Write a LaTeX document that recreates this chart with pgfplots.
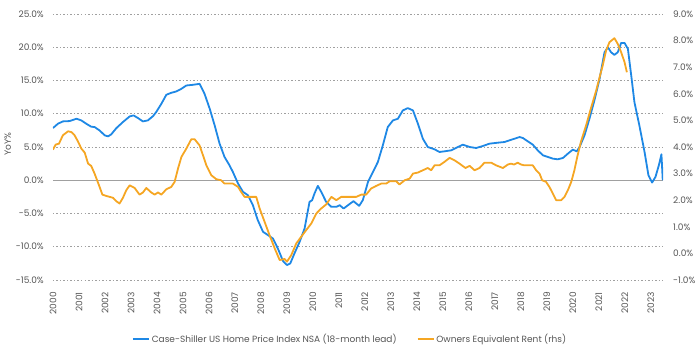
\documentclass[border=0pt]{standalone}
\usepackage{fontspec}
\setmainfont{Poppins}
\usepackage{pgfplots}
\pgfplotsset{compat=1.18}
\definecolor{csblue}{RGB}{30,136,229}
\definecolor{oerorange}{RGB}{245,166,35}
\definecolor{txt}{RGB}{85,85,85}
\definecolor{gridc}{RGB}{160,160,160}

\pgfplotstableread{
year val
2000.00 7.85
2000.19 8.5
2000.38 8.85
2000.64 8.9
2000.90 9.25
2001.09 9.0
2001.28 8.5
2001.47 8.05
2001.60 8.0
2001.79 7.5
2001.99 6.75
2002.12 6.6
2002.24 6.9
2002.44 7.85
2002.69 8.75
2002.95 9.6
2003.10 9.75
2003.27 9.35
2003.46 8.85
2003.65 9.0
2003.85 9.65
2003.97 10.25
2004.17 11.5
2004.36 12.85
2004.55 13.15
2004.74 13.35
2004.94 13.75
2005.13 14.25
2005.38 14.35
2005.64 14.5
2005.83 13.0
2006.03 10.75
2006.22 8.25
2006.41 5.5
2006.60 3.5
2006.79 2.25
2006.92 1.25
2007.12 -0.5
2007.31 -1.75
2007.50 -2.25
2007.69 -3.75
2007.88 -6.0
2008.08 -7.75
2008.27 -8.25
2008.46 -8.75
2008.65 -10.25
2008.85 -12.15
2009.00 -12.75
2009.13 -12.5
2009.29 -11.0
2009.49 -9.25
2009.68 -7.25
2009.87 -3.25
2009.97 -3.0
2010.06 -2.0
2010.19 -0.85
2010.32 -1.75
2010.51 -3.25
2010.71 -4.0
2010.90 -4.0
2011.03 -3.75
2011.18 -4.25
2011.35 -3.75
2011.56 -3.15
2011.78 -3.85
2011.92 -3.0
2012.12 -0.25
2012.31 1.25
2012.50 2.75
2012.69 5.25
2012.88 8.0
2013.08 9.0
2013.27 9.25
2013.46 10.5
2013.65 10.85
2013.85 10.5
2014.04 8.5
2014.23 6.25
2014.42 5.0
2014.68 4.65
2014.87 4.25
2015.06 4.35
2015.32 4.5
2015.58 5.0
2015.77 5.35
2016.03 5.0
2016.28 4.85
2016.54 5.15
2016.79 5.5
2017.12 5.65
2017.37 5.75
2017.56 6.0
2017.76 6.25
2017.95 6.5
2018.08 6.35
2018.27 5.85
2018.46 5.35
2018.65 4.5
2018.85 3.75
2019.04 3.5
2019.23 3.25
2019.42 3.15
2019.62 3.35
2019.81 4.0
2020.00 4.6
2020.15 4.35
2020.26 5.0
2020.45 6.75
2020.64 9.25
2020.83 12.0
2021.03 15.25
2021.22 19.25
2021.35 20.0
2021.47 19.25
2021.60 18.85
2021.73 19.25
2021.86 20.65
2021.99 20.65
2022.12 19.75
2022.24 16.0
2022.37 11.75
2022.56 8.25
2022.76 4.25
2022.91 0.75
2023.05 -0.35
2023.18 0.5
2023.31 2.25
2023.41 3.9
2023.46 0.0
}\csdata

\pgfplotstableread{
year val
2000.00 3.90
2000.10 4.09
2000.23 4.125
2000.38 4.44
2000.58 4.59
2000.71 4.56
2000.83 4.44
2000.96 4.21
2001.09 3.94
2001.22 3.79
2001.35 3.375
2001.47 3.29
2001.60 3.0
2001.77 2.56
2001.90 2.21
2002.05 2.16
2002.18 2.125
2002.31 2.09
2002.44 1.96
2002.56 1.875
2002.69 2.09
2002.82 2.375
2002.95 2.56
2003.14 2.46
2003.33 2.21
2003.46 2.29
2003.59 2.46
2003.78 2.29
2003.91 2.21
2004.04 2.29
2004.17 2.21
2004.36 2.41
2004.55 2.5
2004.68 2.69
2004.81 3.19
2004.94 3.625
2005.13 3.94
2005.32 4.29
2005.45 4.29
2005.64 4.06
2005.77 3.69
2005.90 3.31
2006.09 2.94
2006.28 2.79
2006.47 2.75
2006.60 2.625
2006.92 2.625
2007.12 2.5
2007.24 2.31
2007.37 2.125
2007.82 2.125
2007.95 1.69
2008.14 1.19
2008.33 0.69
2008.53 0.19
2008.72 -0.25
2008.91 -0.21
2009.00 -0.31
2009.17 -0.06
2009.36 0.375
2009.55 0.625
2009.74 0.875
2009.94 1.125
2010.13 1.5
2010.32 1.69
2010.51 1.84
2010.71 2.125
2010.90 2.0
2011.09 2.125
2011.41 2.125
2011.67 2.125
2011.86 2.21
2012.05 2.21
2012.24 2.44
2012.44 2.54
2012.63 2.625
2012.82 2.625
2012.95 2.71
2013.21 2.71
2013.33 2.59
2013.53 2.75
2013.72 2.81
2013.85 3.0
2014.04 3.04
2014.23 3.125
2014.42 3.21
2014.55 3.125
2014.68 3.31
2014.87 3.31
2015.06 3.44
2015.26 3.59
2015.45 3.5
2015.64 3.375
2015.87 3.21
2016.03 3.29
2016.22 3.125
2016.41 3.21
2016.60 3.41
2016.86 3.41
2017.05 3.31
2017.31 3.21
2017.50 3.34
2017.62 3.375
2017.74 3.34
2017.88 3.41
2018.01 3.34
2018.14 3.31
2018.46 3.31
2018.59 3.125
2018.72 3.0
2018.82 2.75
2018.97 2.69
2019.10 2.5
2019.23 2.25
2019.36 2.0
2019.55 2.0
2019.68 2.125
2019.81 2.375
2019.94 2.69
2020.06 3.125
2020.17 3.625
2020.31 4.19
2020.51 4.81
2020.71 5.5
2020.90 6.125
2021.03 6.625
2021.15 7.06
2021.28 7.625
2021.41 7.94
2021.60 8.09
2021.73 7.875
2021.86 7.56
2021.99 7.19
2022.08 6.81
}\oerdata

\begin{document}
\begin{tikzpicture}[font=\fontsize{9}{11}\selectfont]
\useasboundingbox (-53pt,-70pt) rectangle (647pt,280pt);
\begin{axis}[
  at={(0pt,0pt)}, anchor=south west,
  scale only axis, width=610pt, height=266pt,
  xmin=2000, xmax=2023.47, ymin=-15, ymax=25,
  axis line style={draw=none},
  major tick length=0pt,
  ytick={-15,-10,-5,5,10,15,20,25},
  yticklabels={-15.0\%,-10.0\%,-5.0\%,5.0\%,10.0\%,15.0\%,20.0\%,25.0\%},
  extra y ticks={0}, extra y tick labels={0.0\%},
  extra y tick style={ymajorgrids=true, major grid style={solid, draw=gridc, line width=0.9pt}},
  ymajorgrids,
  major grid style={draw=gridc, dash pattern=on 1.5pt off 2pt, line width=0.6pt},
  xtick={2000,2001,2002,2003,2004,2005,2006,2007,2008,2009,2010,2011,2012,2013,2014,2015,2016,2017,2018,2019,2020,2021,2022,2023},
  xticklabels={2000,2001,2002,2003,2004,2005,2006,2007,2008,2009,2010,2011,2012,2013,2014,2015,2016,2017,2018,2019,2020,2021,2022,2023},
  x tick label style={rotate=90, anchor=east, inner sep=0pt, text=txt},
  xticklabel shift=12pt,
  y tick label style={inner sep=0pt, text=txt},
  yticklabel shift=9pt,
  ylabel={YoY\%},
  ylabel style={at={(axis description cs:-0.074,0.51)}, anchor=center, text=txt},
]
\addplot[csblue, line width=1.8pt, line join=round, mark=none] table[x=year,y=val]{\csdata};
\end{axis}
\begin{axis}[
  at={(0pt,0pt)}, anchor=south west,
  scale only axis, width=610pt, height=266pt,
  xmin=2000, xmax=2023.47, ymin=-1, ymax=9,
  axis y line*=right, hide x axis,
  axis line style={draw=none},
  major tick length=0pt,
  ytick={-1,0,1,2,3,4,5,6,7,8,9},
  yticklabels={-1.0\%,0.0\%,1.0\%,2.0\%,3.0\%,4.0\%,5.0\%,6.0\%,7.0\%,8.0\%,9.0\%},
  y tick label style={inner sep=0pt, text=txt},
  yticklabel shift=10pt,
  legend style={at={(axis description cs:0.487,-0.222)}, anchor=center, draw=none, fill=none,
    legend columns=2, text=txt, inner sep=0pt,
    /tikz/every even column/.append style={column sep=18pt}},
  legend image code/.code={\draw[#1] (0pt,0pt) -- (16pt,0pt);},
]
\addlegendimage{csblue, line width=1.8pt}
\addlegendentry{Case-Shiller US Home Price Index NSA (18-month lead)}
\addplot[oerorange, line width=1.8pt, line join=round, mark=none] table[x=year,y=val]{\oerdata};
\addlegendentry{Owners Equivalent Rent (rhs)}
\end{axis}
\end{tikzpicture}
\end{document}
